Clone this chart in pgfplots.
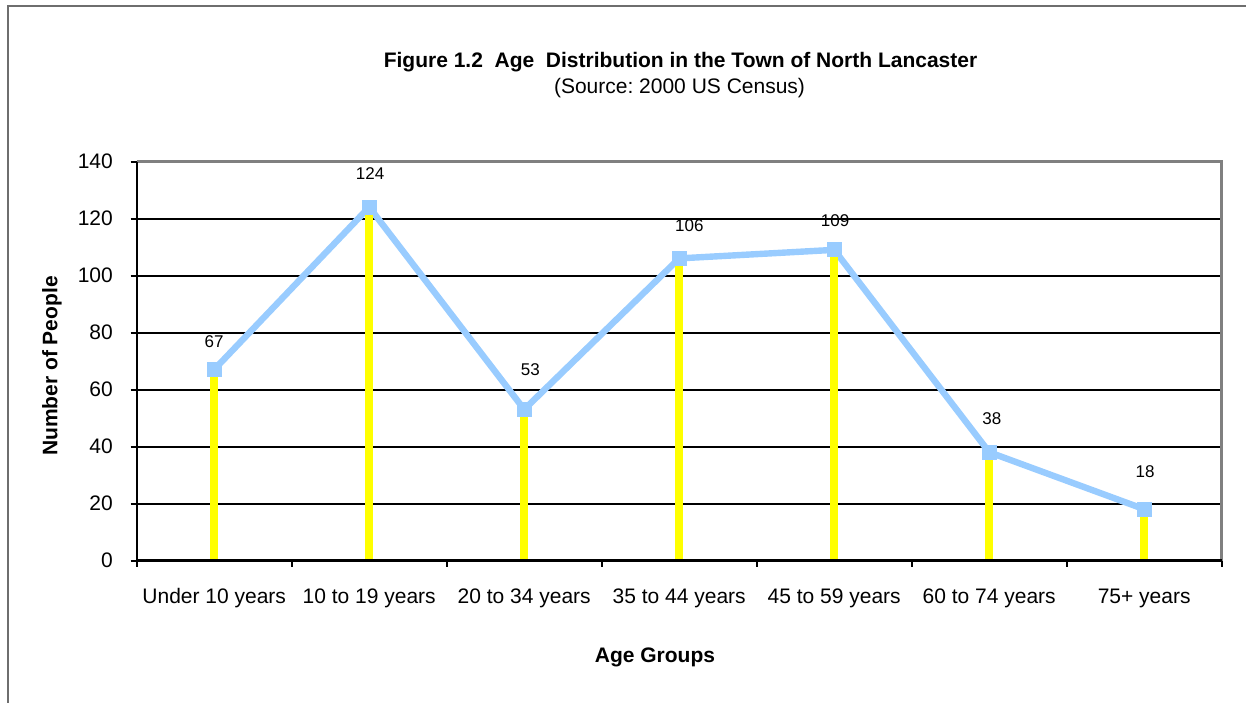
\documentclass[border=0pt]{standalone}
\usepackage{fontspec}
\setmainfont{Liberation Sans}
\usepackage{pgfplots}
\pgfplotsset{compat=1.18}
\definecolor{lineblue}{RGB}{153,204,255}
\definecolor{stemyellow}{RGB}{255,255,0}
\definecolor{framegray}{RGB}{110,110,110}
\definecolor{axisgray}{RGB}{128,128,128}

\pgfplotstableread{
x y
0 67
1 124
2 53
3 106
4 109
5 38
6 18
}\agedata

\begin{document}
\frenchspacing
\fontsize{10.5}{12.6}\selectfont
\begin{tikzpicture}[x=0.5pt,y=0.5pt]
\useasboundingbox (0,0) rectangle (1246,702);
\draw[framegray, line width=0.7pt] (8,-10) -- (8,696) -- (1260,696);
\node[font=\bfseries, anchor=base] at (680.5,634) {Figure 1.2~~Age~~Distribution in the Town of North Lancaster};
\node[anchor=base] at (679.5,608) {(Source: 2000 US Census)};
\begin{axis}[
  at={(68.35pt,70.75pt)}, anchor=south west,
  scale only axis, width=542.5pt, height=199.5pt,
  xmin=-0.5, xmax=6.5, ymin=0, ymax=140,
  axis line style={draw=none},
  ytick={0,20,...,140},
  ymajorgrids,
  major grid style={black, line width=1pt},
  xtick={-0.5,0.5,...,6.5},
  x tick label as interval,
  xticklabels={Under 10 years,10 to 19 years,20 to 34 years,35 to 44 years,45 to 59 years,60 to 74 years,75+ years},
  xtick pos=bottom, ytick pos=left,
  tick align=outside, major tick length=3pt,
  tick style={black, line width=1pt},
  /pgf/number format/assume math mode=true,
  yticklabel style={font=\fontsize{10.5}{12.6}\selectfont, anchor=east, inner sep=0pt, xshift=-8.75pt},
  xticklabel style={font=\fontsize{10.5}{12.6}\selectfont, anchor=base, inner sep=0pt, yshift=-18.25pt},
  clip=false,
]
\addplot[lineblue, line width=3.2pt, mark=square*, mark size=3.5pt,
  mark options={solid, fill=lineblue, draw=lineblue, line width=0pt}] table[x=x,y=y] {\agedata};
\addplot[ycomb, stemyellow, line width=4pt, mark=none] table[x=x,y=y] {\agedata};
\draw[axisgray, line width=1.5pt] (rel axis cs:0,1) -- (rel axis cs:1,1) -- (rel axis cs:1,0);
\draw[black, line width=1pt] (rel axis cs:0,0) -- (rel axis cs:0,1);
\draw[black, line width=1.6pt] (rel axis cs:0,0) -- (rel axis cs:1,0);
\begin{scope}[every node/.style={font=\fontsize{8.5}{10}\selectfont, anchor=center, inner sep=0pt}]
\node at (axis cs:0,76.8) {67};
\node at (axis cs:1.006,135.6) {124};
\node at (axis cs:2.04,66.9) {53};
\node at (axis cs:3.065,117.6) {106};
\node at (axis cs:4.006,119.1) {109};
\node at (axis cs:5.017,49.7) {38};
\node at (axis cs:6.006,31.3) {18};
\end{scope}
\end{axis}
\node[rotate=90, font=\bfseries, anchor=center] at (52,336) {Number of People};
\node[font=\bfseries, anchor=base] at (655,40) {Age Groups};
\end{tikzpicture}
\end{document}
